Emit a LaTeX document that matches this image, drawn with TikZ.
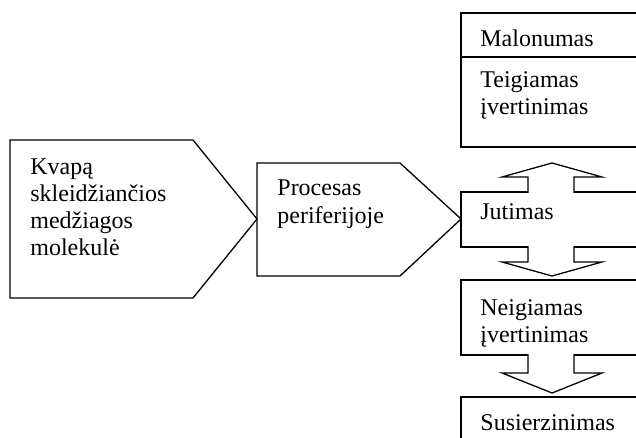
\documentclass[tikz,border=0pt]{standalone}
\usepackage{fontspec}
\setmainfont{Liberation Serif}
\usetikzlibrary{positioning}

\tikzset{
  outline/.style={draw=black, line width=0.65pt, line join=miter},
  blockarrow/.style={outline, fill=white},
  label/.style={inner sep=0pt, anchor=base west, align=left,
    font=\fontsize{12}{13.5}\selectfont}
}

\begin{document}
\begin{tikzpicture}[x=0.5pt, y=-0.5pt]
	\useasboundingbox (0,0) rectangle (636,438);
	\clip (0,0) rectangle (636,438);
	
	%---------------- LEFT: PENTAGON ARROWS ----------------
	\draw[outline] (10,140) -- (193,140) -- (257,219) -- (193,298) -- (10,298) -- cycle;
	% base of a multi-line label = last line
	\node[label] (mol) at (30,256) {Kvapą\\skleidžiančios\\medžiagos\\molekulė};
	
	\draw[outline] (257,163) -- (400,163) -- (461,219) -- (400,276) -- (257,276) -- cycle;
	\node[label] (proc) at (277,223) {Procesas\\periferijoje};
	
	%---------------- RIGHT: COLUMN OF BOXES ----------------
	% boxes run past the right edge
	\draw[outline] (461,13) rectangle (660,147);
	\draw[outline] (461,57) -- (660,57);
	\draw[outline] (461,192) rectangle (660,247);
	\draw[outline] (461,280) rectangle (660,355);
	\draw[outline] (461,397) rectangle (660,460);
	
	\node[label] (malon) at (480,47) {Malonumas};
	\node[label] (teig) at (480,115) {Teigiamas\\įvertinimas};
	\node[label] (jut) at (480,220) {Jutimas};
	\node[label] (neig) at (480,342) {Neigiamas\\įvertinimas};
	\node[label] (susierz) at (480,430) {Susierzinimas};
	
	% up arrow: Jutimas -> Teigiamas
	\draw[blockarrow] (528,193) -- (528,177) -- (502,177) -- (552,163)
		-- (602,177) -- (574,177) -- (574,193);
	
	% down arrows: Jutimas -> Neigiamas -> Susierzinimas
	\foreach \ya/\yb/\yc in {246/262/276, 354/373/393} {
		\draw[blockarrow] (528,\ya) -- (528,\yb) -- (502,\yb) -- (552,\yc)
			-- (602,\yb) -- (574,\yb) -- (574,\ya);
	}
\end{tikzpicture}
\end{document}
